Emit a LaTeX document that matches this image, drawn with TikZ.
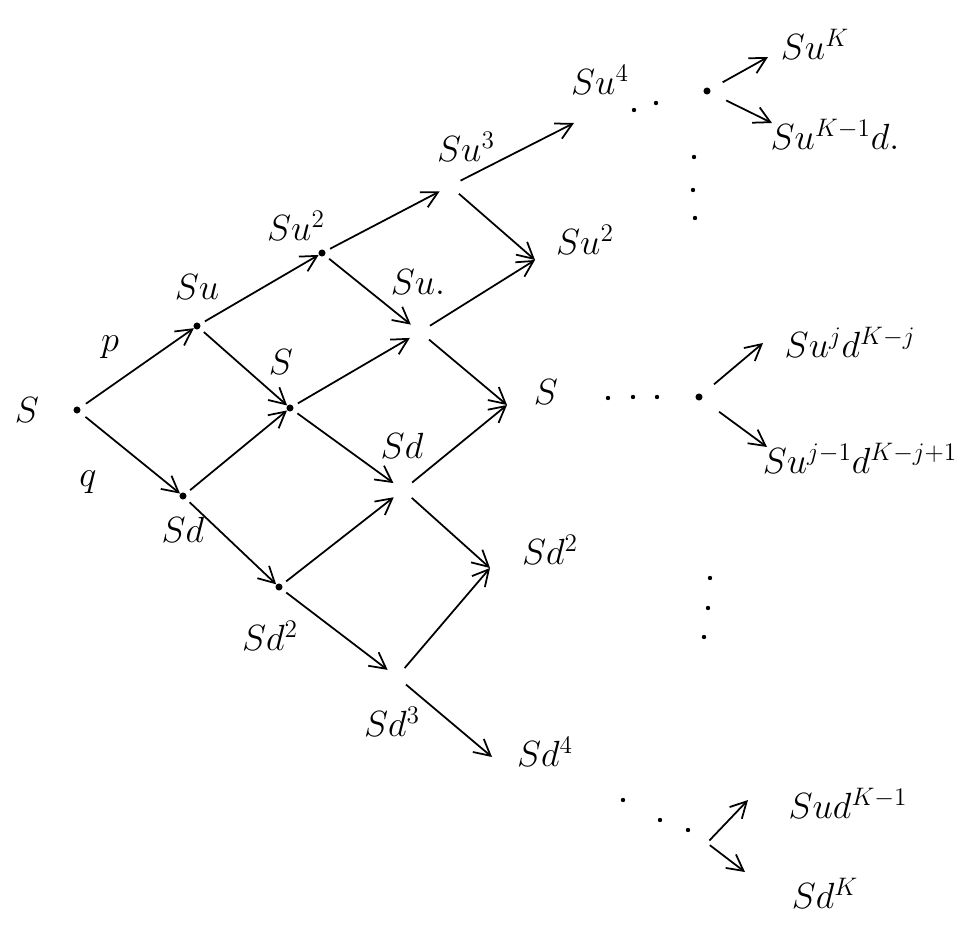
\documentclass[tikz,border=0pt]{standalone}
\usepackage{amsmath}
\usetikzlibrary{arrows.meta}
\tikzset{
  lbl/.style={inner sep=1pt, font=\fontsize{21}{25}\selectfont},
  pt/.style={circle, fill, inner sep=0pt, minimum size=4pt},
  hole/.style={circle, inner sep=0pt, minimum size=13pt},
  dot/.style={circle, fill, inner sep=0pt, minimum size=2.5pt},
  arrow/.style={-{Straight Barb[length=3.2mm,width=3.4mm]}, line width=1pt},
}

\begin{document}
\begin{tikzpicture}[x=0.02cm, y=-0.02cm]
  \useasboundingbox (0,0) rectangle (970,942);

  % Tree points
  \node[pt]   (n0)  at (77,410)  {};
  \node[pt]   (n1u) at (197,326) {};
  \node[pt]   (n1d) at (183,496) {};
  \node[pt]   (n2u) at (322,253) {};
  \node[pt]   (n2m) at (290,408) {};
  \node[pt]   (n2d) at (279,587) {};
  \node[hole] (n3a) at (450,186) {};
  \node[hole] (n3b) at (420,332) {};
  \node[hole] (n3c) at (403,490) {};
  \node[hole] (n3d) at (397,677) {};

  % Arrow ends on level 4
  \coordinate (e4a) at (574,123);
  \coordinate (e4b) at (535,260);
  \coordinate (e4c) at (507,405);
  \coordinate (e4d) at (490,568);
  \coordinate (e4e) at (492,757);

  % Labels
  \node[lbl] (l0)  at (27,410)  {$S$};
  \node[lbl] (lp)  at (110,347) {$p$};
  \node[lbl] (lq)  at (88,482)  {$q$};
  \node[lbl] (l1u) at (197,287) {$Su$};
  \node[lbl] (l1d) at (183,530) {$Sd$};
  \node[lbl] (l2u) at (296,226) {$Su^2$};
  \node[lbl] (l2m) at (281,362) {$S$};
  \node[lbl] (l2d) at (270,636) {$Sd^2$};
  \node[lbl] (l3a) at (466,147) {$Su^3$};
  \node[lbl] (l3b) at (418,282) {$Su.$};
  \node[lbl] (l3c) at (402,446) {$Sd$};
  \node[lbl] (l3d) at (392,722) {$Sd^3$};
  \node[lbl] (l4a) at (600,80)  {$Su^4$};
  \node[lbl] (l4b) at (585,240) {$Su^2$};
  \node[lbl] (l4c) at (546,392) {$S$};
  \node[lbl] (l4d) at (550,550) {$Sd^2$};
  \node[lbl] (l4e) at (545,752) {$Sd^4$};

  % Tree arrows
  \draw[arrow, shorten <=4pt] (n0) -- (n1u);
  \draw[arrow, shorten <=4pt] (n0) -- (n1d);
  \draw[arrow, shorten <=3pt] (n1u) -- (n2u);
  \draw[arrow, shorten <=3pt] (n1u) -- (n2m);
  \draw[arrow, shorten <=3pt] (n1d) -- (n2m);
  \draw[arrow, shorten <=3pt] (n1d) -- (n2d);
  \draw[arrow, shorten <=3pt] (n2u) -- (n3a);
  \draw[arrow, shorten <=3pt] (n2u) -- (n3b);
  \draw[arrow, shorten <=3pt] (n2m) -- (n3b);
  \draw[arrow, shorten <=3pt] (n2m) -- (n3c);
  \draw[arrow, shorten <=3pt] (n2d) -- (n3c);
  \draw[arrow, shorten <=3pt] (n2d) -- (n3d);
  \draw[arrow] (n3a) -- (e4a);
  \draw[arrow] (n3a) -- (e4b);
  \draw[arrow] (n3b) -- (e4b);
  \draw[arrow] (n3b) -- (e4c);
  \draw[arrow] (n3c) -- (e4c);
  \draw[arrow] (n3c) -- (e4d);
  \draw[arrow] (n3d) -- (e4d);
  \draw[arrow] (n3d) -- (e4e);

  % Dots towards step K
  \foreach \x/\y in {634/110, 656/103, 694/157, 693/190, 695/218,
                     608/398, 633/397, 657/397,
                     710/578, 708/608, 704/637,
                     623/800, 660/820, 688/830}
    \node[dot] at (\x,\y) {};

  % Last step
  \node[pt] (k1) at (707,91)  {};
  \node[pt] (k2) at (699,397) {};
  \coordinate (k3) at (707,843);
  \coordinate (f1) at (768,57);
  \coordinate (f2) at (772,123);
  \coordinate (f3) at (763,343);
  \coordinate (f4) at (767,447);
  \coordinate (f5) at (748,800);
  \coordinate (f6) at (745,872);

  \node[lbl] (kuk)  at (815,44)  {$Su^K$};
  \node[lbl] (kuk1) at (835,134) {$Su^{K-1}d.$};
  \node[lbl] (kj)   at (850,342) {$Su^jd^{K-j}$};
  \node[lbl] (kj1)  at (860,458) {$Su^{j-1}d^{K-j+1}$};
  \node[lbl] (kdk1) at (848,803) {$Sud^{K-1}$};
  \node[lbl] (kdk)  at (825,893) {$Sd^K$};

  \draw[arrow, shorten <=8pt] (k1) -- (f1);
  \draw[arrow, shorten <=10pt] (k1) -- (f2);
  \draw[arrow, shorten <=9pt] (k2) -- (f3);
  \draw[arrow, shorten <=12pt] (k2) -- (f4);
  \draw[arrow, shorten <=2pt] (k3) -- (f5);
  \draw[arrow, shorten <=2pt] (k3) -- (f6);
\end{tikzpicture}
\end{document}
